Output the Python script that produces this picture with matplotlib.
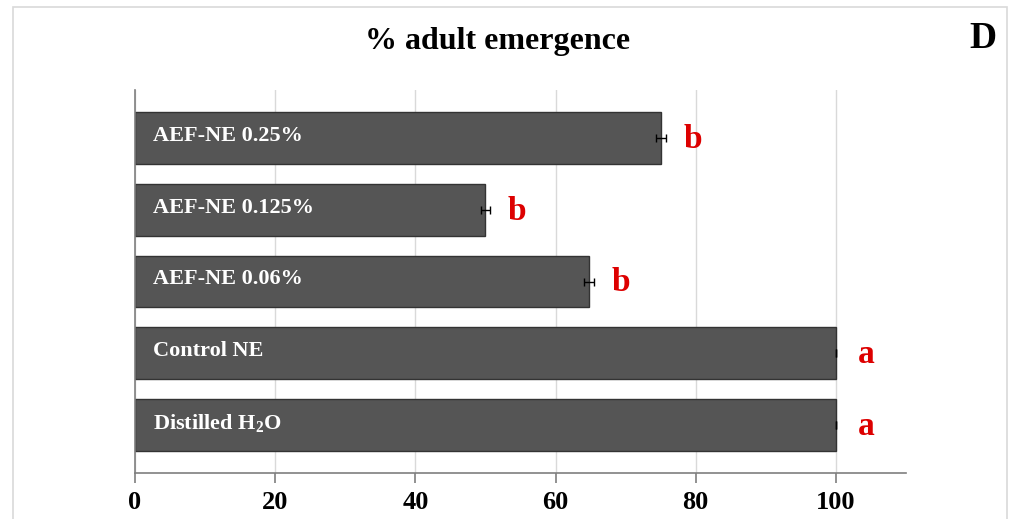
import matplotlib.pyplot as plt
from matplotlib.patches import Rectangle

# data (bottom to top)
treatments = ["Distilled H$_2$O", "Control NE", "AEF-NE 0.06%", "AEF-NE 0.125%", "AEF-NE 0.25%"]
emergence = [100, 100, 64.8, 50, 75]
errors = [0, 0, 0.7, 0.6, 0.7]
letters = ["a", "a", "b", "b", "b"]

plt.rcParams["font.family"] = ["Liberation Serif", "DejaVu Serif"]
plt.rcParams["mathtext.fontset"] = "custom"
plt.rcParams["mathtext.rm"] = "Liberation Serif:bold"
plt.rcParams["mathtext.it"] = "Liberation Serif:bold"

fig = plt.figure(figsize=(10.1, 5.19), dpi=100)
ax = fig.add_axes([135 / 1010, 1 - 473 / 519, (906 - 135) / 1010, (473 - 90) / 519])

pos = range(len(treatments))
ax.barh(pos, emergence, height=0.72, color="#555555", edgecolor="#333333", linewidth=1, zorder=2)
ax.errorbar(emergence, pos, xerr=errors, fmt="none", ecolor="black", elinewidth=1,
            capsize=3, capthick=1, zorder=3)

for i, (name, v, lt) in enumerate(zip(treatments, emergence, letters)):
    ax.text(2.6, i + 0.03, name, color="white", fontsize=16, fontweight="bold",
            ha="left", va="center", zorder=4)
    ax.text(v + 3.2, i - 0.02, lt, color="#dd0000", fontsize=24, fontweight="bold",
            ha="left", va="center", zorder=4)

ax.set_xlim(0, 110)
ax.set_ylim(-0.667, 4.667)
ax.set_xticks([0, 20, 40, 60, 80, 100])
ax.set_yticks([])
ax.grid(axis="x", color="#d9d9d9", linewidth=1, zorder=0)
ax.set_axisbelow(True)

for s in ["top", "right"]:
    ax.spines[s].set_visible(False)
ax.spines["left"].set_color("#7f7f7f")
ax.spines["bottom"].set_color("#7f7f7f")
ax.spines["left"].set_linewidth(1.2)
ax.spines["bottom"].set_linewidth(1.2)
ax.tick_params(axis="x", direction="out", length=7, width=1.2, color="#7f7f7f",
               labelsize=19, pad=6)
for lab in ax.get_xticklabels():
    lab.set_fontweight("bold")

fig.text(498 / 1010, 1 - 41 / 519, "% adult emergence", ha="center", va="center",
         fontsize=23, fontweight="bold")
fig.text(983 / 1010, 1 - 39 / 519, "D", ha="center", va="center",
         fontsize=27, fontweight="bold")

# light frame around the panel
fig.patches.append(Rectangle((12.5 / 1010, -0.01), (1007 - 12.5) / 1010, 1 - 6.5 / 519 + 0.01,
                             transform=fig.transFigure, fill=False,
                             edgecolor="#d9d9d9", linewidth=1.2))

fig.savefig("out.png", dpi=100)
